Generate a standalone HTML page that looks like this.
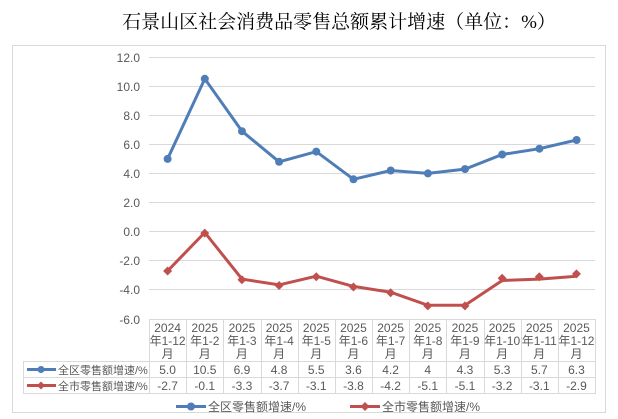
<!DOCTYPE html>
<html><head><meta charset="utf-8"><style>
body{margin:0;background:#fff}
svg{display:block}
text{font-family:"Liberation Sans","Noto Sans CJK SC",sans-serif;fill:#595959;font-size:12px}
</style></head><body>
<svg width="618" height="419" xmlns="http://www.w3.org/2000/svg">
<text x="339" y="28" text-anchor="middle" style="font-family:'Liberation Serif','Noto Serif CJK SC',serif;font-size:19px;fill:#000">石景山区社会消费品零售总额累计增速（单位：%）</text>
<rect x="12.5" y="45.5" width="593" height="367" fill="none" stroke="#d9d9d9"/>
<g stroke="#d9d9d9" stroke-width="1">
<line x1="149" x2="595" y1="57.5" y2="57.5"/><line x1="149" x2="595" y1="86.5" y2="86.5"/>
<line x1="149" x2="595" y1="115.5" y2="115.5"/><line x1="149" x2="595" y1="144.5" y2="144.5"/>
<line x1="149" x2="595" y1="173.5" y2="173.5"/><line x1="149" x2="595" y1="202.5" y2="202.5"/>
<line x1="149" x2="595" y1="231.5" y2="231.5"/><line x1="149" x2="595" y1="260.5" y2="260.5"/>
<line x1="149" x2="595" y1="289.5" y2="289.5"/>
<line x1="149" x2="595" y1="319.5" y2="319.5"/>
<line x1="23" x2="595" y1="361.5" y2="361.5"/><line x1="23" x2="595" y1="377.5" y2="377.5"/><line x1="23" x2="595" y1="393.5" y2="393.5"/>
<line x1="23.5" x2="23.5" y1="361" y2="394"/>
</g>
<g text-anchor="end">
<text x="140" y="62">12.0</text><text x="140" y="91">10.0</text><text x="140" y="120">8.0</text>
<text x="140" y="149">6.0</text><text x="140" y="178">4.0</text><text x="140" y="207">2.0</text>
<text x="140" y="236">0.0</text><text x="140" y="265">-2.0</text><text x="140" y="294">-4.0</text><text x="140" y="324">-6.0</text>
</g>
<polyline fill="none" stroke="#4f7db8" stroke-width="3" points="167.6,158.9 204.8,78.8 242,131.2 279.1,161.8 316.3,151.6 353.5,179.3 390.7,170.5 427.9,173.4 465,169.1 502.2,154.5 539.4,148.7 576.6,140"/>
<polyline fill="none" stroke="#c0504d" stroke-width="3" points="167.6,270.9 204.8,232.5 242,279.1 279.1,284.9 316.3,276.2 353.5,286.4 390.7,292.2 427.9,305.3 465,305.3 502.2,280.5 539.4,279.1 576.6,276.2"/>
<g fill="#4f7db8">
<circle cx="167.6" cy="158.9" r="4"/><circle cx="204.8" cy="78.8" r="4"/><circle cx="242" cy="131.2" r="4"/><circle cx="279.1" cy="161.8" r="4"/><circle cx="316.3" cy="151.6" r="4"/><circle cx="353.5" cy="179.3" r="4"/><circle cx="390.7" cy="170.5" r="4"/><circle cx="427.9" cy="173.4" r="4"/><circle cx="465" cy="169.1" r="4"/><circle cx="502.2" cy="154.5" r="4"/><circle cx="539.4" cy="148.7" r="4"/><circle cx="576.6" cy="140" r="4"/>
</g>
<g fill="#c0504d" id="dm"></g>
<g stroke="#d9d9d9" id="vl"></g>
<g id="tbl"></g>
<line x1="27" x2="56" y1="369.5" y2="369.5" stroke="#4f7db8" stroke-width="3"/><circle cx="41" cy="369.5" r="3.5" fill="#4f7db8"/>
<line x1="27" x2="56" y1="385.5" y2="385.5" stroke="#c0504d" stroke-width="3"/><path d="M41 381.5l4 4-4 4-4-4z" fill="#c0504d"/>
<text x="58" y="374" style="font-size:11px">全区零售额增速/%</text>
<text x="58" y="390" style="font-size:11px">全市零售额增速/%</text>
<line x1="176" x2="206" y1="406.5" y2="406.5" stroke="#4f7db8" stroke-width="3"/><circle cx="191" cy="406.5" r="4" fill="#4f7db8"/>
<text x="208" y="411" style="font-size:12px">全区零售额增速/%</text>
<line x1="350" x2="380" y1="406.5" y2="406.5" stroke="#c0504d" stroke-width="3"/><path d="M365 402l4.5 4.5-4.5 4.5-4.5-4.5z" fill="#c0504d"/>
<text x="382" y="411" style="font-size:12px">全市零售额增速/%</text>
</svg>
<script>
var ns="http://www.w3.org/2000/svg";
var b=[-2.7,-0.1,-3.3,-3.7,-3.1,-3.8,-4.2,-5.1,-5.1,-3.2,-3.1,-2.9];
var as=["5.0","10.5","6.9","4.8","5.5","3.6","4.2","4","4.3","5.3","5.7","6.3"],bs=["-2.7","-0.1","-3.3","-3.7","-3.1","-3.8","-4.2","-5.1","-5.1","-3.2","-3.1","-2.9"];
var w=37.17,x0=149;
function el(t,at,p,txt){var e=document.createElementNS(ns,t);for(var k in at)e.setAttribute(k,at[k]);if(txt!=null)e.textContent=txt;document.getElementById(p).appendChild(e);}
for(var i=0;i<=12;i++){var x=Math.round(x0+i*w)+0.5;el("line",{x1:x,x2:x,y1:319,y2:394},"vl");}
for(var i=0;i<12;i++){var c=x0+(i+0.5)*w;var y=57+(12-b[i])*14.556;
el("path",{d:"M"+c+" "+(y-4.5)+"l4.5 4.5-4.5 4.5-4.5-4.5z"},"dm");
el("text",{x:c,y:332,"text-anchor":"middle"},"tbl",i==0?"2024":"2025");
el("text",{x:c,y:345,"text-anchor":"middle"},"tbl",["年1-12","年1-2","年1-3","年1-4","年1-5","年1-6","年1-7","年1-8","年1-9","年1-10","年1-11","年1-12"][i]);
el("text",{x:c,y:358,"text-anchor":"middle"},"tbl","月");
el("text",{x:c,y:374,"text-anchor":"middle"},"tbl",as[i]);
el("text",{x:c,y:390,"text-anchor":"middle"},"tbl",bs[i]);}
</script>
</body></html>
